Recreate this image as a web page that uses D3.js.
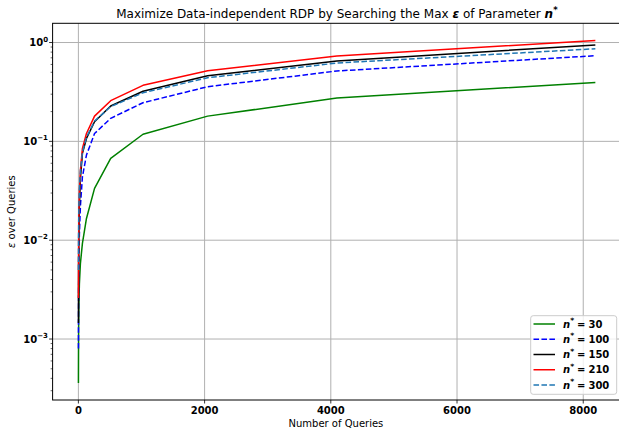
<!DOCTYPE html>
<html>
<head>
<meta charset="utf-8">
<script src="https://cdn.jsdelivr.net/npm/d3@7"></script>
<style>
  html, body { margin: 0; padding: 0; background: #fff; }
  svg { display: block; font-family: "DejaVu Sans", sans-serif; }
</style>
</head>
<body>
<svg id="chart" width="619" height="431"></svg>
<script>
// ---- data ----
const queries = [1, 2, 4, 8, 16, 32, 64, 128, 256, 512, 1024, 2048, 4096, 8192];
const eps30  = [3.6e-4, 6.8e-4, 1.25e-3, 2.2e-3, 3.6e-3, 5.8e-3, 0.0093, 0.0166, 0.0334, 0.0673, 0.118, 0.180, 0.274, 0.395];
const eps100 = [8.0e-4, 1.6e-3, 3.1e-3, 6.0e-3, 0.0115, 0.022, 0.0438, 0.0727, 0.120, 0.171, 0.246, 0.357, 0.515, 0.735];
const eps150 = [1.45e-3, 2.9e-3, 5.6e-3, 0.011, 0.022, 0.042, 0.0756, 0.107, 0.158, 0.228, 0.321, 0.461, 0.650, 0.945];
const eps210 = [2.6e-3, 5.0e-3, 9.5e-3, 0.018, 0.031, 0.051, 0.085, 0.120, 0.180, 0.258, 0.369, 0.518, 0.730, 1.05];
const eps300 = [5.0e-3, 8.5e-3, 0.014, 0.022, 0.033, 0.050, 0.078, 0.110, 0.160, 0.225, 0.310, 0.440, 0.620, 0.865];
const seriesNames = ["30", "100", "150", "210", "300"];
const xTicks = [0, 2000, 4000, 6000, 8000];
const yTickExps = [-3, -2, -1, 0];

const series = [
  { name: seriesNames[0], values: eps30,  color: "#008000", dash: null },
  { name: seriesNames[1], values: eps100, color: "#0000ff", dash: "5.55,2.4" },
  { name: seriesNames[2], values: eps150, color: "#000000", dash: null },
  { name: seriesNames[3], values: eps210, color: "#ff0000", dash: null },
  { name: seriesNames[4], values: eps300, color: "#1f77b4", dash: "5.55,2.4" }
];

// ---- layout ----
const L = 52.6, R = 621.2, T = 23.3, B = 400;
const svg = d3.select("#chart");

// x: matplotlib-like 5% margins
const xmin = d3.min(queries), xmax = d3.max(queries);
const xm = 0.05 * (xmax - xmin);
const x = d3.scaleLinear().domain([xmin - xm, xmax + xm]).range([L, R]);

const allVals = series.flatMap(s => s.values);
const lmin = Math.log10(d3.min(allVals)), lmax = Math.log10(d3.max(allVals));
const lm = 0.05 * (lmax - lmin);
const y = d3.scaleLog().domain([Math.pow(10, lmin - lm), Math.pow(10, lmax + lm)]).range([B, T]);

// clip
svg.append("defs").append("clipPath").attr("id", "clip")
  .append("rect").attr("x", L).attr("y", T).attr("width", R - L).attr("height", B - T);

// grid
const grid = svg.append("g");
xTicks.forEach(t => {
  grid.append("line").attr("x1", x(t)).attr("x2", x(t)).attr("y1", T).attr("y2", B)
    .attr("stroke", "#b0b0b0").attr("stroke-width", 1);
});
yTickExps.forEach(e => {
  const v = Math.pow(10, e);
  grid.append("line").attr("x1", L).attr("x2", R).attr("y1", y(v)).attr("y2", y(v))
    .attr("stroke", "#b0b0b0").attr("stroke-width", 1);
});

// lines
const line = d3.line().x((d, i) => x(queries[i])).y(d => y(d));
const plot = svg.append("g").attr("clip-path", "url(#clip)");
series.forEach(s => {
  plot.append("path").datum(s.values).attr("d", line)
    .attr("fill", "none").attr("stroke", s.color).attr("stroke-width", 1.5)
    .attr("stroke-dasharray", s.dash).attr("stroke-linejoin", "round");
});

// spines
svg.append("rect").attr("x", L).attr("y", T).attr("width", R - L).attr("height", B - T)
  .attr("fill", "none").attr("stroke", "#000").attr("stroke-width", 1);

// x ticks
const xAxis = svg.append("g");
xTicks.forEach(t => {
  xAxis.append("line").attr("x1", x(t)).attr("x2", x(t)).attr("y1", B).attr("y2", B + 3.5)
    .attr("stroke", "#000").attr("stroke-width", 0.8);
  xAxis.append("text").attr("x", x(t)).attr("y", B + 14).attr("text-anchor", "middle")
    .attr("font-size", 10).attr("font-weight", "bold").text(d3.format("d")(t));
});

// y ticks (major + minor)
const yAxis = svg.append("g");
const [d0, d1] = y.domain();
for (let e = Math.floor(Math.log10(d0)); e <= Math.ceil(Math.log10(d1)); e++) {
  for (let m = 1; m <= 9; m++) {
    const v = m * Math.pow(10, e);
    if (v < d0 || v > d1) continue;
    const len = m === 1 ? 3.5 : 2;
    yAxis.append("line").attr("x1", L - len).attr("x2", L).attr("y1", y(v)).attr("y2", y(v))
      .attr("stroke", "#000").attr("stroke-width", m === 1 ? 0.8 : 0.6);
  }
}
yTickExps.forEach(e => {
  const v = Math.pow(10, e);
  const t = yAxis.append("text").attr("x", 48).attr("y", y(v) + 3.6).attr("text-anchor", "end")
    .attr("font-size", 10).attr("font-weight", "bold");
  t.append("tspan").text("10");
  t.append("tspan").attr("dy", -4.5).attr("font-size", 7).text(e < 0 ? "\u2212" + (-e) : String(e));
});

// axis labels
svg.append("text").attr("x", (L + R) / 2 - 1).attr("y", 427).attr("text-anchor", "middle")
  .attr("font-size", 10).text("Number of Queries");
const yl = svg.append("text").attr("transform", `translate(15,${(T + B) / 2}) rotate(-90)`)
  .attr("text-anchor", "middle").attr("font-size", 10);
yl.append("tspan").attr("font-style", "italic").text("\u03B5");
yl.append("tspan").text(" over Queries");

// title
const title = svg.append("text").attr("x", (L + R) / 2).attr("y", 18).attr("text-anchor", "middle")
  .attr("font-size", 12);
title.append("tspan").text("Maximize Data-independent RDP by Searching the Max ");
title.append("tspan").attr("font-weight", "bold").attr("font-style", "italic").text("\u03B5");
title.append("tspan").text(" of Parameter ");
title.append("tspan").attr("font-weight", "bold").attr("font-style", "italic").text("n");
title.append("tspan").attr("dy", -5).attr("font-size", 8.5).attr("font-weight", "bold").text("*");

// legend
const lg = svg.append("g");
lg.append("rect").attr("x", 530.7).attr("y", 315.7).attr("width", 86).attr("height", 78.6)
  .attr("rx", 2.5).attr("fill", "#fff").attr("fill-opacity", 0.8)
  .attr("stroke", "#cccccc").attr("stroke-width", 1);
series.forEach((s, i) => {
  const yy = 324 + i * 15.25;
  lg.append("line").attr("x1", 533.5).attr("x2", 555).attr("y1", yy).attr("y2", yy)
    .attr("stroke", s.color).attr("stroke-width", 1.5).attr("stroke-dasharray", s.dash);
  const t = lg.append("text").attr("x", 563).attr("y", yy + 3.6).attr("font-size", 10)
    .attr("font-weight", "bold");
  t.append("tspan").attr("font-style", "italic").text("n");
  t.append("tspan").attr("dy", -4.5).attr("font-size", 7.5).text("*");
  t.append("tspan").attr("dy", 4.5).attr("dx", 3).text("=");
  t.append("tspan").attr("dx", 3).text(s.name);
});
</script>
</body>
</html>
